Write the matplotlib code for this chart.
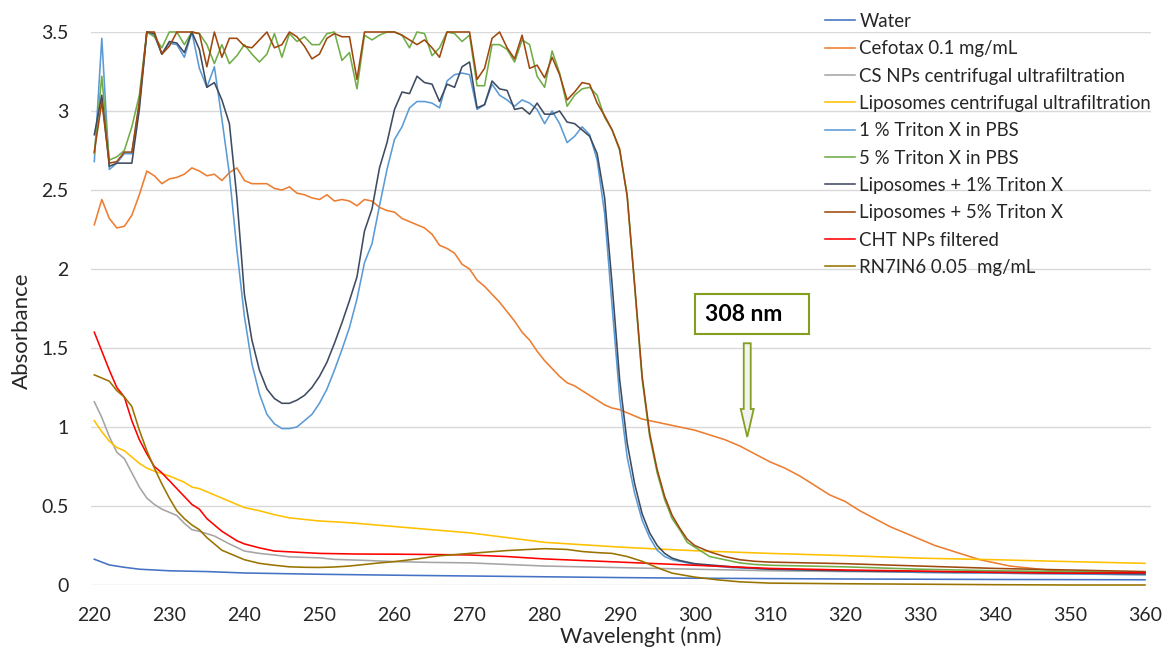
import matplotlib
matplotlib.use('Agg')
import matplotlib.pyplot as plt
from matplotlib.patches import Rectangle, FancyArrow

plt.rcParams['font.family'] = ['Lato', 'DejaVu Sans']

# longitudes de onda (nm) de cada serie
wl_fino = list(range(220, 301))
wl_triton1 = wl_fino + [305, 310, 320, 330, 340, 350, 360]
wl_triton5 = wl_fino + [302, 304, 306, 308, 310, 320, 330, 340, 350, 360]
wl_cefotax = wl_fino + list(range(302, 350, 2)) + [350, 355, 360]
wl_water = [220, 222, 224, 226, 228, 230, 235, 240, 245, 250, 255, 260, 270, 280, 290, 300, 320, 340, 360]
wl_cs = list(range(220, 235)) + list(range(236, 253, 2)) + [256, 260, 265, 270, 275, 280] + list(range(290, 361, 10))
wl_lipo = list(range(220, 235)) + list(range(236, 261, 2)) + list(range(265, 301, 5)) + list(range(310, 361, 10))
wl_cht = list(range(220, 241)) + list(range(242, 251, 2)) + list(range(255, 301, 5)) + list(range(310, 361, 10))
wl_rn = list(range(220, 241)) + list(range(242, 261, 2)) + [263, 266, 270, 275, 280, 283, 285, 287, 289, 291,
                                                           293, 295, 297, 300, 303, 306, 310, 320, 330, 340, 350, 360]

water = [0.163, 0.127, 0.112, 0.10, 0.095, 0.09, 0.085, 0.076, 0.072, 0.068, 0.065, 0.062, 0.057, 0.052,
         0.047, 0.043, 0.038, 0.035, 0.033]

cefotax = [2.28, 2.44, 2.32, 2.26, 2.27, 2.34, 2.47, 2.62, 2.59, 2.54,
           2.57, 2.58, 2.60, 2.64, 2.62, 2.59, 2.60, 2.56, 2.61, 2.64,
           2.56, 2.54, 2.54, 2.54, 2.51, 2.50, 2.52, 2.48, 2.47, 2.45,
           2.44, 2.47, 2.43, 2.44, 2.43, 2.40, 2.44, 2.43, 2.39, 2.37,
           2.36, 2.32, 2.30, 2.28, 2.26, 2.22, 2.15, 2.13, 2.10, 2.03,
           2.00, 1.93, 1.89, 1.84, 1.79, 1.73, 1.67, 1.60, 1.55, 1.48,
           1.42, 1.37, 1.32, 1.28, 1.26, 1.23, 1.20, 1.17, 1.14, 1.12,
           1.11, 1.09, 1.07, 1.05, 1.04, 1.03, 1.02, 1.01, 1.00, 0.99,
           0.98,
           0.95, 0.92, 0.88, 0.83, 0.78, 0.74, 0.69, 0.63, 0.57, 0.53, 0.47, 0.42,
           0.37, 0.33, 0.29, 0.25, 0.22, 0.19, 0.16, 0.14, 0.12, 0.11, 0.10, 0.09,
           0.085, 0.08, 0.075]

cs_nps = [1.16, 1.06, 0.94, 0.84, 0.80, 0.71, 0.62, 0.55, 0.51, 0.48, 0.46, 0.44, 0.39, 0.35, 0.34,
          0.31, 0.26, 0.215, 0.20, 0.19, 0.178, 0.175, 0.172, 0.162,
          0.156, 0.148, 0.143, 0.14, 0.13, 0.12,
          0.11, 0.10, 0.09, 0.085, 0.08, 0.075, 0.07, 0.065]

lipo_cf = [1.04, 0.97, 0.91, 0.87, 0.85, 0.81, 0.77, 0.74, 0.72, 0.705, 0.69, 0.67, 0.65, 0.62, 0.61,
           0.57, 0.53, 0.49, 0.47, 0.445, 0.425, 0.415, 0.405, 0.40, 0.394, 0.386, 0.378, 0.37,
           0.35, 0.33, 0.30, 0.27, 0.255, 0.24, 0.228, 0.217,
           0.20, 0.186, 0.17, 0.16, 0.148, 0.137]

triton1 = [2.68, 3.46, 2.63, 2.67, 2.73, 2.73, 3.04, 3.50, 3.48, 3.36,
           3.43, 3.42, 3.34, 3.50, 3.27, 3.15, 3.28, 2.95, 2.60, 2.12,
           1.70, 1.40, 1.21, 1.08, 1.02, 0.99, 0.99, 1.00, 1.04, 1.08,
           1.15, 1.24, 1.36, 1.49, 1.63, 1.81, 2.04, 2.16, 2.40, 2.63,
           2.82, 2.90, 3.02, 3.06, 3.06, 3.05, 3.02, 3.19, 3.23, 3.24,
           3.23, 3.01, 3.04, 3.17, 3.10, 3.07, 3.03, 3.07, 3.05, 3.01,
           2.92, 3.00, 2.92, 2.80, 2.84, 2.90, 2.85, 2.69, 2.35, 1.76,
           1.19, 0.81, 0.58, 0.41, 0.30, 0.22, 0.18, 0.16, 0.15, 0.14,
           0.13, 0.11, 0.10, 0.09, 0.08, 0.075, 0.07, 0.065]

triton5 = [2.73, 3.22, 2.69, 2.71, 2.75, 2.90, 3.10, 3.50, 3.47, 3.40,
           3.50, 3.50, 3.42, 3.50, 3.49, 3.42, 3.30, 3.42, 3.30, 3.35,
           3.42, 3.36, 3.31, 3.36, 3.49, 3.34, 3.49, 3.44, 3.47, 3.42,
           3.42, 3.49, 3.50, 3.32, 3.37, 3.14, 3.48, 3.45, 3.48, 3.50,
           3.50, 3.48, 3.40, 3.50, 3.49, 3.35, 3.40, 3.50, 3.49, 3.44,
           3.48, 3.16, 3.16, 3.42, 3.42, 3.39, 3.31, 3.45, 3.42, 3.22,
           3.15, 3.38, 3.24, 3.03, 3.10, 3.14, 3.15, 3.10, 2.96, 2.88,
           2.75, 2.47, 1.89, 1.30, 0.94, 0.71, 0.54, 0.42, 0.35, 0.27,
           0.24, 0.18, 0.16, 0.14, 0.13, 0.125, 0.115, 0.10, 0.09, 0.085, 0.08]

lipo_t1 = [2.85, 3.10, 2.65, 2.67, 2.67, 2.67, 3.01, 3.50, 3.49, 3.36,
           3.44, 3.43, 3.37, 3.50, 3.39, 3.15, 3.18, 3.07, 2.92, 2.45,
           1.84, 1.55, 1.36, 1.24, 1.18, 1.15, 1.15, 1.17, 1.20, 1.25,
           1.32, 1.41, 1.53, 1.66, 1.80, 1.95, 2.24, 2.38, 2.64, 2.80,
           3.01, 3.12, 3.11, 3.22, 3.18, 3.17, 3.06, 3.17, 3.15, 3.28,
           3.31, 3.02, 3.04, 3.19, 3.14, 3.13, 3.01, 3.02, 2.98, 3.05,
           2.98, 2.98, 3.00, 2.93, 2.92, 2.88, 2.84, 2.73, 2.45, 1.90,
           1.30, 0.90, 0.64, 0.45, 0.33, 0.25, 0.20, 0.17, 0.155, 0.145,
           0.135, 0.115, 0.10, 0.09, 0.085, 0.08, 0.075, 0.07]

lipo_t5 = [2.74, 3.06, 2.67, 2.68, 2.74, 2.74, 3.06, 3.50, 3.50, 3.36,
           3.41, 3.50, 3.50, 3.50, 3.49, 3.28, 3.50, 3.34, 3.46, 3.46,
           3.41, 3.40, 3.45, 3.50, 3.40, 3.42, 3.50, 3.47, 3.41, 3.33,
           3.36, 3.46, 3.49, 3.47, 3.47, 3.20, 3.50, 3.50, 3.50, 3.50,
           3.50, 3.48, 3.45, 3.42, 3.45, 3.40, 3.34, 3.50, 3.50, 3.50,
           3.50, 3.20, 3.27, 3.46, 3.50, 3.40, 3.33, 3.48, 3.27, 3.29,
           3.21, 3.34, 3.23, 3.07, 3.12, 3.18, 3.17, 3.05, 2.97, 2.88,
           2.76, 2.46, 1.90, 1.32, 0.96, 0.73, 0.56, 0.44, 0.36, 0.29,
           0.25, 0.21, 0.18, 0.16, 0.15, 0.145, 0.135, 0.12, 0.105, 0.095, 0.085]

cht = [1.60, 1.48, 1.36, 1.25, 1.19, 1.04, 0.92, 0.83, 0.75, 0.71, 0.66, 0.61, 0.56, 0.51, 0.48,
       0.42, 0.38, 0.34, 0.31, 0.28, 0.26,
       0.235, 0.215, 0.21, 0.205, 0.20,
       0.196, 0.195, 0.193, 0.19, 0.18, 0.165, 0.155, 0.145, 0.135, 0.125,
       0.105, 0.095, 0.088, 0.08, 0.075, 0.078]

rn7in6 = [1.33, 1.31, 1.29, 1.23, 1.19, 1.13, 0.98, 0.85, 0.74, 0.64, 0.55, 0.47, 0.42, 0.38, 0.35,
          0.30, 0.26, 0.22, 0.20, 0.18, 0.16,
          0.137, 0.125, 0.115, 0.112, 0.111, 0.114, 0.12, 0.13, 0.14, 0.148,
          0.165, 0.185, 0.20, 0.218, 0.23, 0.225, 0.212, 0.205, 0.20, 0.18, 0.15, 0.11, 0.075,
          0.05, 0.033, 0.02, 0.012, 0.008, 0.005, 0.002, 0.0, 0.0]

series = [
    (wl_water, water, 'Water', '#4472C4'),
    (wl_cefotax, cefotax, 'Cefotax 0.1 mg/mL', '#ED7D31'),
    (wl_cs, cs_nps, 'CS NPs centrifugal ultrafiltration', '#A5A5A5'),
    (wl_lipo, lipo_cf, 'Liposomes centrifugal ultrafiltration', '#FFC000'),
    (wl_triton1, triton1, '1 % Triton X in PBS', '#5B9BD5'),
    (wl_triton5, triton5, '5 % Triton X in PBS', '#70AD47'),
    (wl_triton1, lipo_t1, 'Liposomes + 1% Triton X', '#3E4B61'),
    (wl_triton5, lipo_t5, 'Liposomes + 5% Triton X', '#9E480E'),
    (wl_cht, cht, 'CHT NPs filtered', '#FF0000'),
    (wl_rn, rn7in6, 'RN7IN6 0.05  mg/mL', '#997300'),
]

fig = plt.figure(figsize=(11.68, 6.49), dpi=100)
ax = fig.add_axes([90.7 / 1168, 1 - 585 / 649, (1151 - 90.7) / 1168, (585 - 32) / 649])

for x, y, etiqueta, color in series:
    ax.plot(x, y, color=color, lw=1.15, label=etiqueta, clip_on=False)

ax.set_xlim(219.52, 360.8)
ax.set_ylim(0, 3.5)
ax.set_xticks(range(220, 361, 10))
ax.set_yticks([0, 0.5, 1, 1.5, 2, 2.5, 3, 3.5])
ax.set_yticklabels(['0', '0.5', '1', '1.5', '2', '2.5', '3', '3.5'])
ax.tick_params(length=0, labelsize=14, colors='#262626', pad=16)
ax.yaxis.grid(True, color='#D9D9D9', lw=1)
ax.set_axisbelow(True)
for s in ax.spines.values():
    s.set_visible(False)

fig.text(641 / 1168, 1 - 637 / 649, 'Wavelenght (nm)', fontsize=15.5, color='#262626', ha='center', va='center')
fig.text(22 / 1168, 1 - 331 / 649, 'Absorbance', fontsize=16, color='#262626', ha='center', va='center',
         rotation=90)

# leyenda a la derecha, sin marco
fig.legend(loc='upper left', bbox_to_anchor=(825 / 1168, 1 - 13 / 649), frameon=False, fontsize=13.4,
           handlelength=1.6, handletextpad=0.25, labelspacing=0.555, borderpad=0, borderaxespad=0,
           labelcolor='#262626')

# recuadro y flecha de 308 nm
ax.add_patch(Rectangle((300.0, 1.59), 15.2, 0.25, fill=True, fc='white', ec='#82A01E', lw=1.5, zorder=5))
ax.text(301.4, 1.715, '308 nm', fontsize=16.5, fontweight='bold', color='black', ha='left', va='center', zorder=6)
ax.add_patch(FancyArrow(307.0, 1.53, 0, -0.593, width=0.93, head_width=1.73, head_length=0.177,
                        length_includes_head=True, fc='#F2F2F2', ec='#82A01E', lw=1.3, zorder=5))

fig.savefig('out.png', dpi=100)
